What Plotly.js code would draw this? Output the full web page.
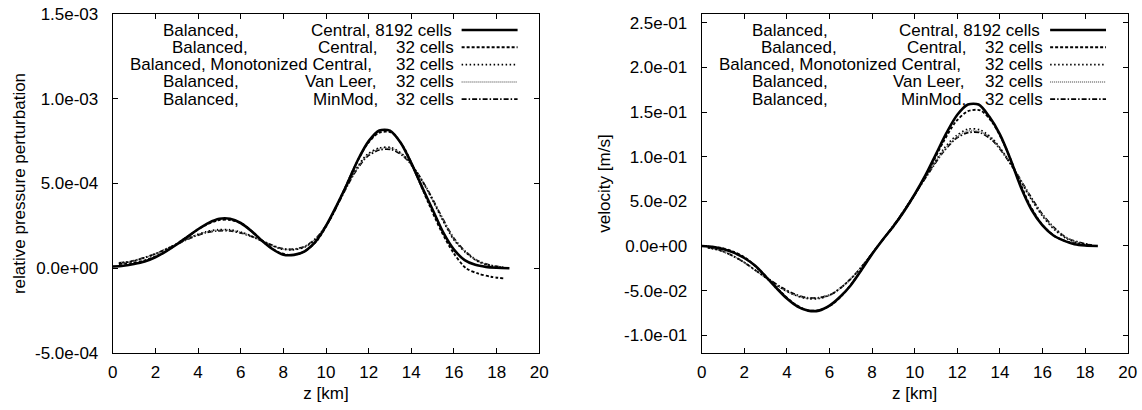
<!DOCTYPE html>
<html><head><meta charset="utf-8">
<script src="https://cdn.plot.ly/plotly-3.0.1.min.js"></script>
<style>html,body{margin:0;padding:0;background:#fff;}#chart{width:1142px;height:410px;}</style>
</head><body><div id="chart"></div>
<script>
// z positions of the fine (8192-cell) reference curves, km
const zFine = [0, 0.5, 1, 1.5, 2, 2.5, 3, 3.5, 4, 4.5, 5, 5.5, 6, 6.5, 7, 7.5, 8, 8.5, 9, 9.5, 10, 10.5, 11, 11.5, 12, 12.5, 13, 13.5, 14, 14.5, 15, 15.5, 16, 16.5, 17, 17.5, 18, 18.6];
// z positions of the 32-cell runs (cell centres), km
const z32 = [0.29, 0.87, 1.45, 2.03, 2.62, 3.20, 3.78, 4.36, 4.94, 5.52, 6.10, 6.68, 7.27, 7.85, 8.43, 9.01, 9.59, 10.17, 10.75, 11.33, 11.92, 12.50, 13.08, 13.66, 14.24, 14.82, 15.40, 15.98, 16.57, 17.15, 17.73, 18.31];

// relative pressure perturbation
const pCentral8192 = [1.0e-5, 1.5e-5, 2.5e-5, 4.0e-5, 6.5e-5, 1.0e-4, 1.4e-4, 1.85e-4, 2.3e-4, 2.68e-4, 2.92e-4, 2.92e-4, 2.67e-4, 2.2e-4, 1.62e-4, 1.12e-4, 8.0e-5, 7.9e-5, 1.0e-4, 1.55e-4, 2.5e-4, 3.7e-4, 5.0e-4, 6.4e-4, 7.5e-4, 8.13e-4, 8.12e-4, 7.4e-4, 6.2e-4, 4.8e-4, 3.45e-4, 2.1e-4, 1.1e-4, 4.8e-5, 2.0e-5, 8e-6, 3e-6, 0];
const pCentral32 = [2.5e-5, 3.0e-5, 4.5e-5, 7.0e-5, 1.1e-4, 1.6e-4, 2.1e-4, 2.55e-4, 2.83e-4, 2.85e-4, 2.6e-4, 2.0e-4, 1.35e-4, 9.0e-5, 7.8e-5, 1.0e-4, 1.65e-4, 2.85e-4, 4.35e-4, 5.95e-4, 7.3e-4, 8.0e-4, 8.0e-4, 7.1e-4, 5.5e-4, 3.8e-4, 2.2e-4, 9.0e-5, 0, -3.2e-5, -5.0e-5, -6.0e-5];
const pMC32 = [3.0e-5, 4.0e-5, 6.0e-5, 8.5e-5, 1.2e-4, 1.55e-4, 1.9e-4, 2.15e-4, 2.28e-4, 2.27e-4, 2.1e-4, 1.8e-4, 1.45e-4, 1.15e-4, 1.08e-4, 1.25e-4, 1.8e-4, 2.85e-4, 4.3e-4, 5.7e-4, 6.7e-4, 7.1e-4, 7.12e-4, 6.65e-4, 5.7e-4, 4.45e-4, 3.0e-4, 1.7e-4, 9.0e-5, 3.8e-5, 1.5e-5, 5e-6];
const pVL32 = [3.0e-5, 4.0e-5, 6.0e-5, 8.6e-5, 1.2e-4, 1.55e-4, 1.88e-4, 2.13e-4, 2.25e-4, 2.24e-4, 2.08e-4, 1.8e-4, 1.46e-4, 1.17e-4, 1.1e-4, 1.27e-4, 1.82e-4, 2.85e-4, 4.28e-4, 5.65e-4, 6.65e-4, 7.05e-4, 7.07e-4, 6.62e-4, 5.7e-4, 4.46e-4, 3.05e-4, 1.75e-4, 9.2e-5, 4.0e-5, 1.6e-5, 5e-6];
const pMM32 = [3.1e-5, 4.1e-5, 6.1e-5, 8.7e-5, 1.2e-4, 1.53e-4, 1.85e-4, 2.1e-4, 2.21e-4, 2.2e-4, 2.05e-4, 1.79e-4, 1.47e-4, 1.19e-4, 1.12e-4, 1.29e-4, 1.84e-4, 2.85e-4, 4.25e-4, 5.6e-4, 6.58e-4, 6.98e-4, 7.0e-4, 6.58e-4, 5.7e-4, 4.5e-4, 3.1e-4, 1.8e-4, 9.5e-5, 4.2e-5, 1.7e-5, 6e-6];

// velocity [m/s]
const vCentral8192 = [0, -0.001, -0.0035, -0.0075, -0.0135, -0.022, -0.034, -0.047, -0.059, -0.068, -0.0725, -0.0725, -0.067, -0.057, -0.044, -0.027, -0.009, 0.007, 0.022, 0.039, 0.058, 0.079, 0.103, 0.127, 0.147, 0.1585, 0.1585, 0.145, 0.125, 0.097, 0.065, 0.040, 0.023, 0.012, 0.006, 0.002, 0.0005, 0];
const vCentral32 = [-0.0005, -0.002, -0.006, -0.013, -0.025, -0.039, -0.053, -0.065, -0.072, -0.072, -0.066, -0.053, -0.035, -0.014, 0.005, 0.022, 0.042, 0.064, 0.089, 0.116, 0.139, 0.151, 0.152, 0.138, 0.112, 0.078, 0.046, 0.024, 0.011, 0.005, 0.002, 0.001];
const vMC32 = [-0.002, -0.005, -0.011, -0.019, -0.029, -0.039, -0.048, -0.055, -0.059, -0.059, -0.054, -0.044, -0.030, -0.013, 0.005, 0.023, 0.043, 0.064, 0.086, 0.108, 0.123, 0.131, 0.130, 0.120, 0.102, 0.079, 0.055, 0.034, 0.018, 0.008, 0.003, 0.001];
const vVL32 = [-0.002, -0.005, -0.011, -0.019, -0.029, -0.039, -0.048, -0.055, -0.0585, -0.0585, -0.054, -0.044, -0.030, -0.013, 0.005, 0.023, 0.043, 0.064, 0.086, 0.106, 0.121, 0.129, 0.128, 0.119, 0.102, 0.080, 0.056, 0.035, 0.019, 0.009, 0.003, 0.001];
const vMM32 = [-0.002, -0.005, -0.011, -0.019, -0.029, -0.038, -0.047, -0.054, -0.058, -0.058, -0.054, -0.044, -0.030, -0.013, 0.005, 0.023, 0.043, 0.064, 0.085, 0.105, 0.120, 0.127, 0.127, 0.118, 0.101, 0.080, 0.057, 0.036, 0.020, 0.009, 0.004, 0.001];

// tick labels
const xTicks = [0, 2, 4, 6, 8, 10, 12, 14, 16, 18, 20];
const pTickVals = [-5e-4, 0, 5e-4, 1e-3, 1.5e-3];
const pTickText = ["-5.0e-04", "0.0e+00", "5.0e-04", "1.0e-03", "1.5e-03"];
const vTickVals = [-0.1, -0.05, 0, 0.05, 0.1, 0.15, 0.2, 0.25];
const vTickText = ["-1.0e-01", "-5.0e-02", "0.0e+00", "5.0e-02", "1.0e-01", "1.5e-01", "2.0e-01", "2.5e-01"];

// legend text
const legendPrefix = ["Balanced,", "Balanced,", "Balanced, Monotonized Central,", "Balanced,", "Balanced,"];
const legendScheme = ["Central, 8192 cells", "Central,", "", "Van Leer,", "MinMod,"];
const legendCells = ["", "32 cells", "32 cells", "32 cells", "32 cells"];

const styles = [
  {color: '#000', width: 2.6, dash: 'solid'},
  {color: '#000', width: 1.9, dash: '3px,2px'},
  {color: '#000', width: 1.6, dash: '1.5px,2.5px'},
  {color: '#7a7a7a', width: 1.6, dash: '1px,1px'},
  {color: '#000', width: 1.8, dash: '5px,2px,1.5px,2px'}
];

const pSeries = [[zFine, pCentral8192], [z32, pCentral32], [z32, pMC32], [z32, pVL32], [z32, pMM32]];
const vSeries = [[zFine, vCentral8192], [z32, vCentral32], [z32, vMC32], [z32, vVL32], [z32, vMM32]];

const traces = [];
const order = [4, 3, 2, 1, 0];
order.forEach(i => {
  traces.push({x: pSeries[i][0], y: pSeries[i][1], xaxis: 'x', yaxis: 'y', mode: 'lines',
    line: Object.assign({shape: 'spline', smoothing: 0.8}, styles[i]), hoverinfo: 'skip'});
  traces.push({x: vSeries[i][0], y: vSeries[i][1], xaxis: 'x2', yaxis: 'y2', mode: 'lines',
    line: Object.assign({shape: 'spline', smoothing: 0.8}, styles[i]), hoverinfo: 'skip'});
});

const W = 1142;
const FS = 17;
const FONT = '"Liberation Sans", Arial, Helvetica, sans-serif';
function xAxis(dom, anchor) {
  return {domain: dom, anchor: anchor, range: [0, 20], tickvals: xTicks, ticks: 'inside', ticklen: 5,
    tickcolor: '#000', showline: true, mirror: 'ticks', linecolor: '#000', linewidth: 1,
    showgrid: false, zeroline: false, automargin: false, ticklabelstandoff: 4,
    tickfont: {size: FS, color: '#000'}, title: {text: 'z [km]', standoff: 5, font: {size: FS, color: '#000'}}};
}
function yAxis(range, vals, text, title, anchor, standoff) {
  return {domain: [0, 1], anchor: anchor, range: range, tickvals: vals, ticktext: text, ticks: 'inside', ticklen: 5,
    tickcolor: '#000', showline: true, mirror: 'ticks', linecolor: '#000', linewidth: 1,
    showgrid: false, zeroline: false, automargin: false, ticklabelstandoff: 10,
    tickfont: {size: FS, color: '#000'}, title: {text: title, standoff: standoff, font: {size: FS, color: '#000'}}};
}

// legend layout (fractions of each subplot's domain)
const rowY = [0.9528, 0.9018, 0.8506, 0.7996, 0.7486];
const prefixX = [0.2065, 0.2281, 0.3242, 0.2065, 0.2065];
const schemeX = [0.629, 0.5523, 0, 0.5347, 0.5452];
const cellsX = 0.7332;
const sampleX = [0.8179, 0.9491];

const annotations = [];
const shapes = [];
[['x', 'y'], ['x2', 'y2']].forEach(([xa, ya]) => {
  for (let r = 0; r < 5; r++) {
    const base = {xref: xa + ' domain', yref: ya + ' domain', y: rowY[r], yanchor: 'middle', xanchor: 'center',
      showarrow: false, font: {size: FS, color: '#000', family: FONT}};
    annotations.push(Object.assign({}, base, {x: prefixX[r], text: legendPrefix[r]}));
    if (legendScheme[r]) annotations.push(Object.assign({}, base, {x: schemeX[r], text: legendScheme[r]}));
    if (legendCells[r]) annotations.push(Object.assign({}, base, {x: cellsX, text: legendCells[r]}));
    shapes.push({type: 'line', xref: xa + ' domain', yref: ya + ' domain', x0: sampleX[0], x1: sampleX[1],
      y0: rowY[r], y1: rowY[r], line: styles[r]});
  }
});

const layout = {
  width: 1142, height: 410,
  margin: {l: 0, r: 0, t: 14, b: 57, pad: 0},
  paper_bgcolor: '#fff', plot_bgcolor: '#fff', showlegend: false,
  font: {family: FONT, size: FS, color: '#000'},
  xaxis: xAxis([112.7 / W, 539.3 / W], 'y'),
  yaxis: yAxis([-5e-4, 1.5e-3], pTickVals, pTickText, 'relative pressure perturbation', 'x', 5),
  xaxis2: xAxis([701.7 / W, 1127.7 / W], 'y2'),
  yaxis2: yAxis([-0.12, 0.26], vTickVals, vTickText, 'velocity [m/s]', 'x2', 9),
  annotations: annotations,
  shapes: shapes
};

Plotly.newPlot('chart', traces, layout, {displayModeBar: false, staticPlot: true});
</script>
</body></html>
